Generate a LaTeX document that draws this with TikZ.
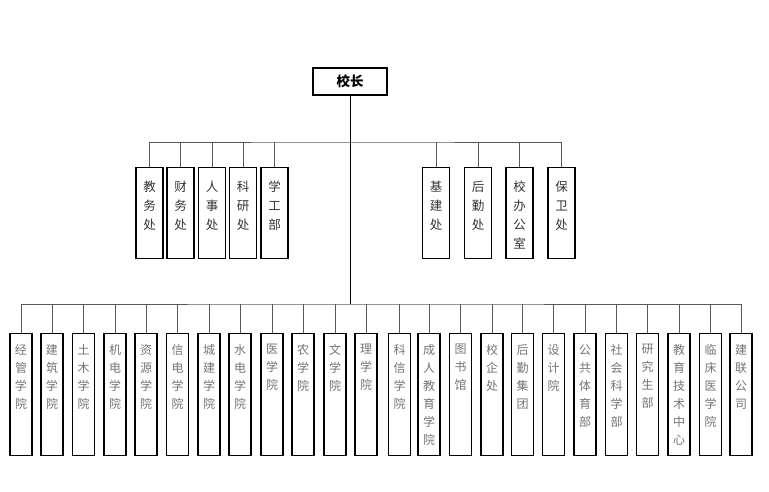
\documentclass[tikz,border=0pt]{standalone}
\usepackage{fontspec}
\setmainfont{Noto Sans CJK SC}
\usetikzlibrary{positioning}
\newcommand{\vname}[3]{\parbox[c][#1][t]{1.2em}{\centering\vspace*{#2}#3}}

\begin{document}
\begin{tikzpicture}[x=1pt,y=-1pt,
    head/.style={draw, line width=1.4pt, minimum width=74pt, minimum height=27pt,
      inner sep=0pt, font=\fontsize{13.5}{16}\selectfont\bfseries},
    office/.style={draw, line width=1.4pt, minimum width=27pt, inner sep=0pt,
      anchor=north, text=black!80, font=\fontsize{12.5}{19}\selectfont},
    college/.style={draw, line width=1.4pt, minimum width=22pt, inner sep=0pt,
      anchor=north, text=black!55, font=\fontsize{12}{18}\selectfont},
    bus/.style={draw=black!65, line width=0.8pt}]
        \useasboundingbox (0,0) rectangle (769,492);
        % head
        \node[head] (xiaozhang) at (350,81.5) {校长};
        \coordinate (bus1) at (350,142);
        \coordinate (bus2) at (350,304);
        % offices
        \node[office] (jiaowu) at (149.5,167) {\vname{91pt}{13pt}{教\\务\\处}};
        \node[office] (caiwu) at (180.5,167) {\vname{91pt}{13pt}{财\\务\\处}};
        \node[office] (renshi) at (212,167) {\vname{91pt}{13pt}{人\\事\\处}};
        \node[office] (keyan) at (243,167) {\vname{91pt}{13pt}{科\\研\\处}};
        \node[office] (xuegong) at (274.5,167) {\vname{91pt}{13pt}{学\\工\\部}};
        \node[office] (jijian) at (436,167) {\vname{91pt}{13pt}{基\\建\\处}};
        \node[office] (houqin) at (478,167) {\vname{91pt}{13pt}{后\\勤\\处}};
        \node[office] (xiaoban) at (519.5,167) {\vname{91pt}{13pt}{校\\办\\公\\室}};
        \node[office] (baowei) at (561.5,167) {\vname{91pt}{13pt}{保\\卫\\处}};
        % colleges
        \node[college] (jingguan) at (21,333) {\vname{122pt}{10.5pt}{经\\管\\学\\院}};
        \node[college] (jianzhu) at (52,333) {\vname{122pt}{10.5pt}{建\\筑\\学\\院}};
        \node[college] (tumu) at (83.5,333) {\vname{122pt}{10.5pt}{土\\木\\学\\院}};
        \node[college] (jidian) at (115,333) {\vname{122pt}{10.5pt}{机\\电\\学\\院}};
        \node[college] (ziyuan) at (146,333) {\vname{122pt}{10.5pt}{资\\源\\学\\院}};
        \node[college] (xindian) at (177.5,333) {\vname{122pt}{10.5pt}{信\\电\\学\\院}};
        \node[college] (chengjian) at (209,333) {\vname{122pt}{10.5pt}{城\\建\\学\\院}};
        \node[college] (shuidian) at (240,333) {\vname{122pt}{10.5pt}{水\\电\\学\\院}};
        \node[college] (yi) at (272,333) {\vname{122pt}{10.5pt}{医\\学\\院}};
        \node[college] (nong) at (303,333) {\vname{122pt}{10.5pt}{农\\学\\院}};
        \node[college] (wen) at (335,333) {\vname{122pt}{10.5pt}{文\\学\\院}};
        \node[college] (li) at (366,333) {\vname{122pt}{10.5pt}{理\\学\\院}};
        \node[college] (kexin) at (399.5,333) {\vname{122pt}{10.5pt}{科\\信\\学\\院}};
        \node[college] (chengren) at (429,333) {\vname{122pt}{10.5pt}{成\\人\\教\\育\\学\\院}};
        \node[college] (tushu) at (460.5,333) {\vname{122pt}{10.5pt}{图\\书\\馆}};
        \node[college] (xiaoqi) at (492,333) {\vname{122pt}{10.5pt}{校\\企\\处}};
        \node[college] (houqinjt) at (522.5,333) {\vname{122pt}{10.5pt}{后\\勤\\集\\团}};
        \node[college] (sheji) at (553.5,333) {\vname{122pt}{10.5pt}{设\\计\\院}};
        \node[college] (tiyu) at (585,333) {\vname{122pt}{10.5pt}{公\\共\\体\\育\\部}};
        \node[college] (sheke) at (616.5,333) {\vname{122pt}{10.5pt}{社\\会\\科\\学\\部}};
        \node[college] (yanjiusheng) at (647.5,333) {\vname{122pt}{10.5pt}{研\\究\\生\\部}};
        \node[college] (jiaoji) at (679,333) {\vname{122pt}{10.5pt}{教\\育\\技\\术\\中\\心}};
        \node[college] (linchuang) at (710.5,333) {\vname{122pt}{10.5pt}{临\\床\\医\\学\\院}};
        \node[college] (jianlian) at (741,333) {\vname{122pt}{10.5pt}{建\\联\\公\\司}};
        % trunk
        \draw[line width=0.9pt] (xiaozhang) -- (bus2);
        % office bus
        \draw[bus] (jiaowu.north) |- (bus1) -| (baowei.north);
        \draw[bus] (caiwu.north) -- (caiwu.north |- bus1);
        \draw[bus] (renshi.north) -- (renshi.north |- bus1);
        \draw[bus] (keyan.north) -- (keyan.north |- bus1);
        \draw[bus] (xuegong.north) -- (xuegong.north |- bus1);
        \draw[bus] (jijian.north) -- (jijian.north |- bus1);
        \draw[bus] (houqin.north) -- (houqin.north |- bus1);
        \draw[bus] (xiaoban.north) -- (xiaoban.north |- bus1);
        % college bus
        \draw[bus] (jingguan.north) |- (bus2) -| (jianlian.north);
        \draw[bus] (jianzhu.north) -- (jianzhu.north |- bus2);
        \draw[bus] (tumu.north) -- (tumu.north |- bus2);
        \draw[bus] (jidian.north) -- (jidian.north |- bus2);
        \draw[bus] (ziyuan.north) -- (ziyuan.north |- bus2);
        \draw[bus] (xindian.north) -- (xindian.north |- bus2);
        \draw[bus] (chengjian.north) -- (chengjian.north |- bus2);
        \draw[bus] (shuidian.north) -- (shuidian.north |- bus2);
        \draw[bus] (yi.north) -- (yi.north |- bus2);
        \draw[bus] (nong.north) -- (nong.north |- bus2);
        \draw[bus] (wen.north) -- (wen.north |- bus2);
        \draw[bus] (li.north) -- (li.north |- bus2);
        \draw[bus] (kexin.north) -- (kexin.north |- bus2);
        \draw[bus] (chengren.north) -- (chengren.north |- bus2);
        \draw[bus] (tushu.north) -- (tushu.north |- bus2);
        \draw[bus] (xiaoqi.north) -- (xiaoqi.north |- bus2);
        \draw[bus] (houqinjt.north) -- (houqinjt.north |- bus2);
        \draw[bus] (sheji.north) -- (sheji.north |- bus2);
        \draw[bus] (tiyu.north) -- (tiyu.north |- bus2);
        \draw[bus] (sheke.north) -- (sheke.north |- bus2);
        \draw[bus] (yanjiusheng.north) -- (yanjiusheng.north |- bus2);
        \draw[bus] (jiaoji.north) -- (jiaoji.north |- bus2);
        \draw[bus] (linchuang.north) -- (linchuang.north |- bus2);
\end{tikzpicture}
\end{document}
